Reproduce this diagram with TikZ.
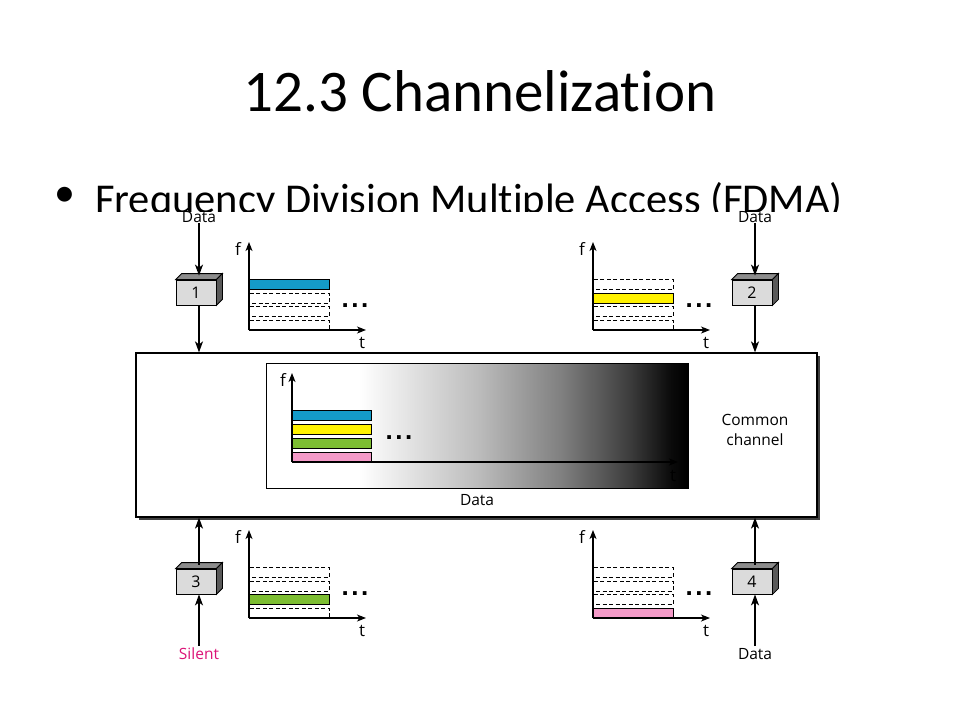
\documentclass[tikz,border=0pt]{standalone}
\usepackage{fontspec}
\setmainfont[Ligatures=NoCommon]{Carlito}
\newfontfamily\diagfont{Open Sans}
\newfontfamily\dotfont{Liberation Sans}
\usetikzlibrary{arrows.meta,shadows}
\definecolor{chblue}{RGB}{20,155,200}
\definecolor{chyellow}{RGB}{255,242,0}
\definecolor{chgreen}{RGB}{125,190,50}
\definecolor{chpink}{RGB}{244,154,200}
\definecolor{chsilent}{RGB}{220,20,120}
\pgfdeclarehorizontalshading{chanshade}{100bp}{color(0bp)=(white); color(25bp)=(white); color(36bp)=(white); color(50bp)=(black!26); color(60bp)=(black!50); color(68bp)=(black!76); color(73bp)=(black!96); color(75bp)=(black); color(100bp)=(black)}
\tikzset{
  lbl/.style={font=\diagfont\fontsize{15.5}{18}\selectfont, inner sep=0pt},
  axlbl/.style={font=\diagfont\fontsize{17}{18}\selectfont, inner sep=0pt},
  stn/.style={draw, fill=black!14, minimum width=40pt, minimum height=25pt, inner sep=0pt, line width=0.8pt, font=\diagfont\fontsize{16}{16}\selectfont},
  flow/.style={line width=1.4pt, -{Stealth[length=11pt,width=8pt,inset=3pt]}},
  axis/.style={line width=1.1pt, -{Stealth[length=9pt,width=7pt,inset=2.5pt]}},
  slotbox/.style={line width=0.9pt, dash pattern=on 4pt off 2.5pt},
  barbox/.style={draw, line width=0.9pt},
  dots/.style={font=\dotfont\bfseries\fontsize{26}{26}\selectfont, inner sep=0pt, anchor=base}
}
\begin{document}
\begin{tikzpicture}[x=1pt,y=-1pt]
\useasboundingbox (0,0) rectangle (960,720);
\fill[white] (0,0) rectangle (960,720);
% title and bullet
\node[font=\fontsize{59}{61}\selectfont, anchor=base, inner sep=0pt] (title) at (480,111) {12.3 Channelization};
\node[font=\fontsize{42.5}{44}\selectfont, anchor=base west, inner sep=0pt] (bul) at (95,213) {Frequency Division Multiple Access (FDMA)};
\node[font=\fontsize{42}{44}\selectfont, inner sep=0pt] (bdot) at (65,197) {\textbullet};
\fill[white] (0,212) rectangle (960,720);

% common channel
\node[draw, line width=1.2pt, fill=white, minimum width=681pt, minimum height=164pt, inner sep=0pt,
      drop shadow={shadow xshift=3pt, shadow yshift=-3pt, fill=black!75, opacity=1}] (chan) at (476.5,435) {};
\node[draw, line width=0.9pt, shading=chanshade, minimum width=422pt, minimum height=125pt, inner sep=0pt] (inner) at (477,425.5) {};
\node[lbl] (cdata) at (477,500) {Data};
\node[lbl, align=center, font=\diagfont\fontsize{15.5}{20}\selectfont] (common) at (755,430) {Common\\channel};
\coordinate (io) at (292,462);
\draw[barbox, fill=chblue] (292,410) rectangle (371,420);
\draw[barbox, fill=chyellow] (292,424) rectangle (371,434);
\draw[barbox, fill=chgreen] (292,438) rectangle (371,448);
\draw[barbox, fill=chpink] (292,452) rectangle (371,462);
\coordinate (ifend) at (292,373);
\coordinate (itend) at (678,462);
\draw[axis] (io) -- (ifend);
\draw[axis] (io) -- (itend);
\node[axlbl] (ifl) at (283,380) {f};
\node[axlbl] (itl) at (673,476) {t};
\node[dots] (idots) at (399,439) {.\kern2.5pt.\kern2.5pt.};

% stations
\foreach \n/\x/\y in {1/196/292.5, 2/752/292.5, 3/196/581.5, 4/752/581.5}{
  \node[stn] (b\n) at (\x,\y) {\n};
  \filldraw[fill=black!45, line width=0.8pt] (b\n.north west) -- ++(6,-6) -- ([shift={(6,-6)}]b\n.north east) -- (b\n.north east) -- cycle;
  \filldraw[fill=black!65, line width=0.8pt] (b\n.north east) -- ++(6,-6) -- ([shift={(6,-6)}]b\n.south east) -- (b\n.south east) -- cycle;
}
\node[lbl] (d1) at (199,217) {Data};
\node[lbl] (d2) at (755,217) {Data};
\node[lbl, text=chsilent] (d3) at (199,654) {Silent};
\node[lbl] (d4) at (755,654) {Data};
\draw[flow] (d1.south) -- ([yshift=4pt]d1 |- b1.north);
\draw[flow] (d1 |- b1.south) -- (d1 |- chan.north);
\draw[flow] (d2.south) -- ([yshift=4pt]d2 |- b2.north);
\draw[flow] (d2 |- b2.south) -- (d2 |- chan.north);
\draw[flow] ([yshift=2pt]d3.north) -- (d3 |- b3.south);
\draw[flow] ([yshift=4pt]d3 |- b3.north) -- (d3 |- chan.south);
\draw[flow] ([yshift=2pt]d4.north) -- (d4 |- b4.south);
\draw[flow] ([yshift=4pt]d4 |- b4.north) -- (d4 |- chan.south);

% small graphs
\foreach \g/\ox/\oy/\c/\col in {1/249/330/4/chblue, 2/593/330/3/chyellow, 3/249/618/2/chgreen, 4/593/618/1/chpink}{
  \coordinate (o\g) at (\ox,\oy);
  \foreach \k in {1,2,3,4}{
    \ifnum\k=\c
      \draw[barbox, fill=\col] ([shift={(0,-13.5*\k+3.5)}]o\g) rectangle ++(80,10);
    \else
      \draw[slotbox] ([shift={(0,-13.5*\k+3.5)}]o\g) rectangle ++(80,10);
    \fi
  }
  \coordinate (fe\g) at ([shift={(0,-88)}]o\g);
  \coordinate (te\g) at ([shift={(117,0)}]o\g);
  \draw[axis] (o\g) -- (fe\g);
  \draw[axis] (o\g) -- (te\g);
  \node[axlbl] (fl\g) at ([shift={(-11,-81)}]o\g) {f};
  \node[axlbl] (tl\g) at ([shift={(113,13)}]o\g) {t};
  \node[dots] (dt\g) at ([shift={(106,-23)}]o\g) {.\kern2.5pt.\kern2.5pt.};
}
\end{tikzpicture}
\end{document}
